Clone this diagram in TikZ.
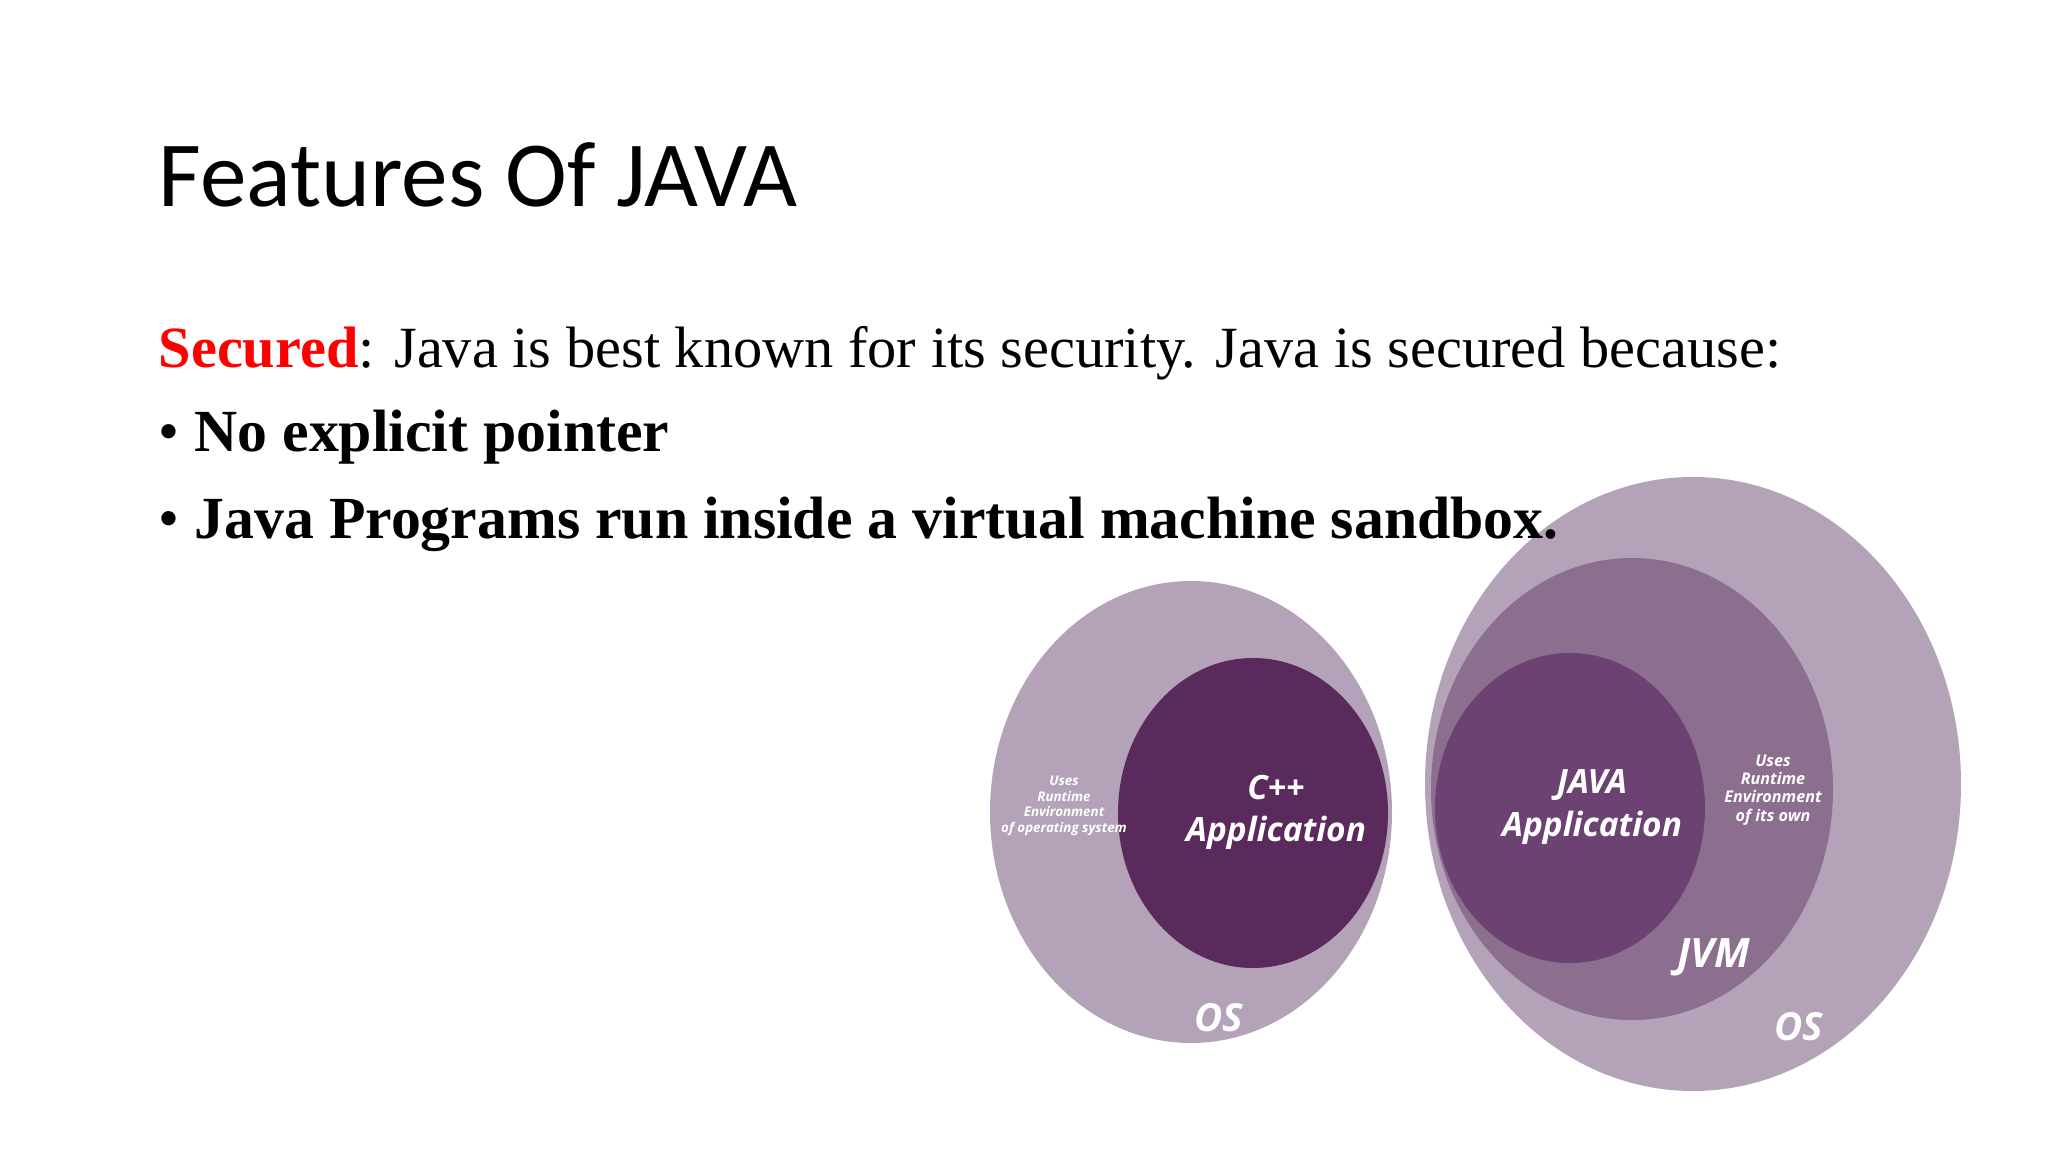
\documentclass[tikz,border=0pt]{standalone}
\usepackage{fontspec}
\setmainfont{Liberation Serif}
\newfontfamily\titlef{Carlito}
\newfontfamily\diagf{Open Sans}
\begin{document}
\begin{tikzpicture}[x=0.01cm,y=-0.01cm,
  lbl/.style={text=white,font=\diagf\bfseries\itshape,align=center,inner sep=0pt},
  tiny/.style={text=white,font=\diagf\bfseries\itshape\fontsize{3.8}{4.4}\selectfont,align=center,inner sep=0pt}]
\definecolor{osfill}{HTML}{B3A2B8}
\definecolor{jvmfill}{HTML}{8C6E8E}
\definecolor{javafill}{HTML}{6B4272}
\definecolor{cppfill}{HTML}{5A2A5C}
\useasboundingbox (0,0) rectangle (2048,1152);
\fill[white] (0,0) rectangle (2048,1152);
% left diagram
\fill[osfill] (1191,812) ellipse [x radius=201,y radius=231];
\fill[cppfill] (1253,813) ellipse [x radius=135,y radius=155];
% right diagram
\fill[osfill] (1693,784) ellipse [x radius=268,y radius=307];
\fill[jvmfill] (1632,789) ellipse [x radius=201,y radius=231];
\fill[javafill] (1570,808) ellipse [x radius=135,y radius=155];
\node[lbl,font=\diagf\bfseries\itshape\fontsize{9.5}{12}\selectfont] (cpp) at (1276,812) {C++\\Application};
\node[lbl,font=\diagf\bfseries\itshape\fontsize{9.5}{12}\selectfont] (java) at (1592,807) {JAVA\\Application};
\node[tiny] (l1) at (1064,806) {Uses\\Runtime\\Environment\\of operating system};
\node[tiny,font=\diagf\bfseries\itshape\fontsize{4.6}{5.2}\selectfont] (r1) at (1773,790) {Uses\\Runtime\\Environment\\of its own};
\node[lbl,font=\diagf\bfseries\itshape\fontsize{11.5}{14}\selectfont] (jvm) at (1714,957) {JVM};
\node[lbl,font=\diagf\bfseries\itshape\fontsize{11}{13}\selectfont] (os1) at (1219,1018) {OS};
\node[lbl,font=\diagf\bfseries\itshape\fontsize{11}{13}\selectfont] (os2) at (1799,1027) {OS};
% text
\node[anchor=base west,inner sep=0pt,font=\titlef\fontsize{26.5}{32}\selectfont] (title) at (158,207) {Features Of JAVA};
\node[anchor=base west,inner sep=0pt,font=\fontsize{16.6}{20}\selectfont] (sec) at (158,368) {\textcolor{red}{\textbf{Secured}}: Java is best known for its security. Java is secured because:};
\node[anchor=base west,inner sep=0pt,font=\fontsize{17}{20}\selectfont] (b1) at (158,452) {\textbullet\ \textbf{No explicit pointer}};
\node[anchor=base west,inner sep=0pt,font=\fontsize{17}{20}\selectfont] (b2) at (158,539) {\textbullet\ \textbf{Java Programs run inside a virtual machine sandbox.}};
\end{tikzpicture}
\end{document}
